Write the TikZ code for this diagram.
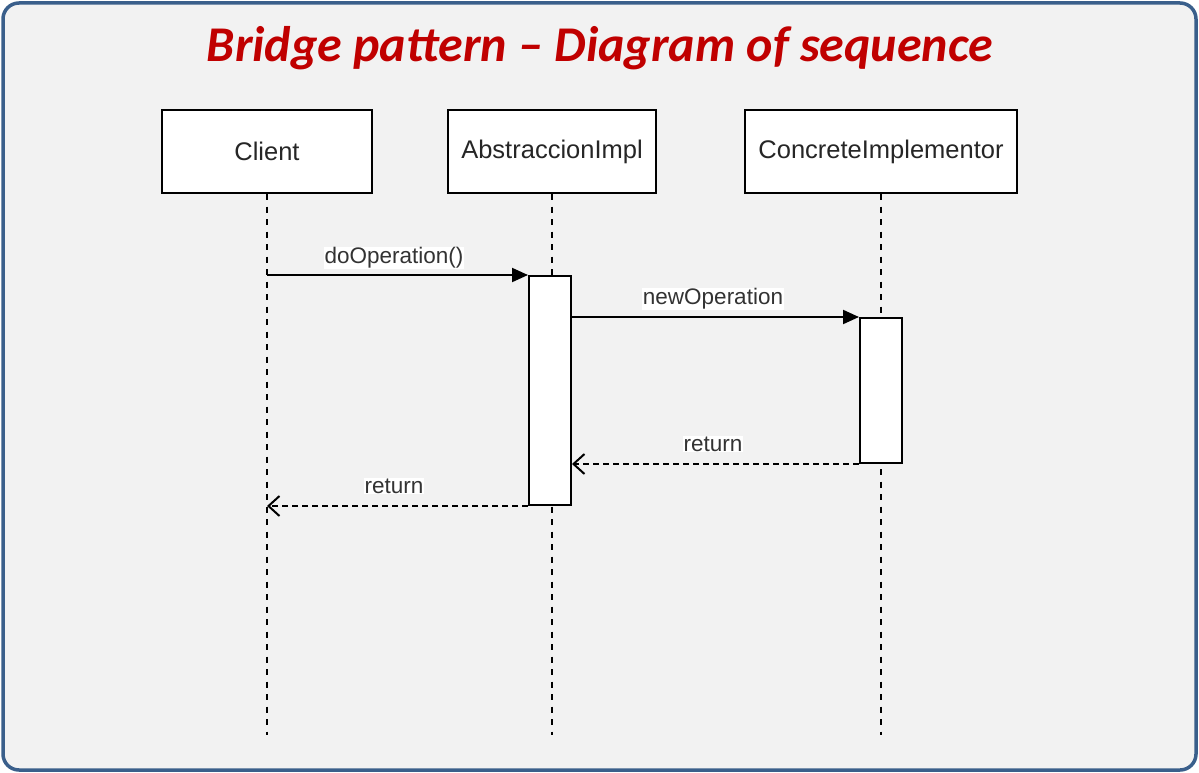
\documentclass[tikz,border=0pt]{standalone}
\usepackage{fontspec}
\setmainfont{Liberation Sans}
\newfontfamily\titlefont{Carlito}
\usetikzlibrary{arrows.meta}
\definecolor{frameblue}{HTML}{3A5F8B}
\definecolor{titlered}{HTML}{C00000}
\definecolor{bg}{HTML}{F2F2F2}
\begin{document}
\begin{tikzpicture}[x=1pt,y=-1pt,
 head/.style={draw=black,line width=2pt,fill=white,minimum height=83pt,inner sep=0pt,text=black!85,font=\fontsize{25.5}{30}\selectfont},
 act/.style={draw=black,line width=2pt,fill=white,minimum width=42pt,inner sep=0pt},
 lifeline/.style={draw=black,line width=2.2pt,dash pattern=on 6pt off 6.5pt},
 call/.style={draw=black,line width=2pt,-{Triangle[length=16pt,width=14pt]}},
 ret/.style={draw=black,line width=2pt,dash pattern=on 6pt off 4pt,-{Straight Barb[length=11pt,width=20pt]}},
 msg/.style={fill=white,inner sep=1pt,text=black!80,font=\fontsize{22.5}{26}\selectfont}]
\useasboundingbox (0,0) rectangle (1199,773);
\draw[frameblue,line width=3.5pt,fill=bg,rounded corners=16pt] (3,3) rectangle (1196,770);
\node[text=titlered,font=\titlefont\bfseries\itshape\fontsize{50}{60}\selectfont] (title) at (600,48) {Bridge pattern – Diagram of sequence};
% heads
\node[head,minimum width=210pt] (client) at (267,151.5) {Client};
\node[head,minimum width=208pt] (abs) at (552,151.5) {AbstraccionImpl};
\node[head,minimum width=272pt] (conc) at (881,151.5) {ConcreteImplementor};
% lifeline ends
\coordinate (clientEnd) at (267,735);
\coordinate (absEnd) at (552,735);
\coordinate (concEnd) at (881,735);
\draw[lifeline] (client.south) -- (clientEnd);
\draw[lifeline] (abs.south) -- (absEnd);
\draw[lifeline] (conc.south) -- (concEnd);
% activations
\node[act,minimum height=229pt] (absAct) at (550,390.5) {};
\node[act,minimum height=145pt] (concAct) at (881,390.5) {};
% messages
\draw[call] (client |- absAct.north) -- (absAct.north west);
\draw[call] (absAct.east |- concAct.north) -- (concAct.north west);
\draw[ret] (concAct.south west) -- (absAct.east |- concAct.south);
\draw[ret] (absAct.south west) -- (client |- absAct.south);
% labels
\node[msg] (l1) at (394,258) {doOperation()};
\node[msg] (l2) at (713,299) {newOperation};
\node[msg] (l3) at (713,444) {return};
\node[msg] (l4) at (394,486) {return};
\end{tikzpicture}
\end{document}
